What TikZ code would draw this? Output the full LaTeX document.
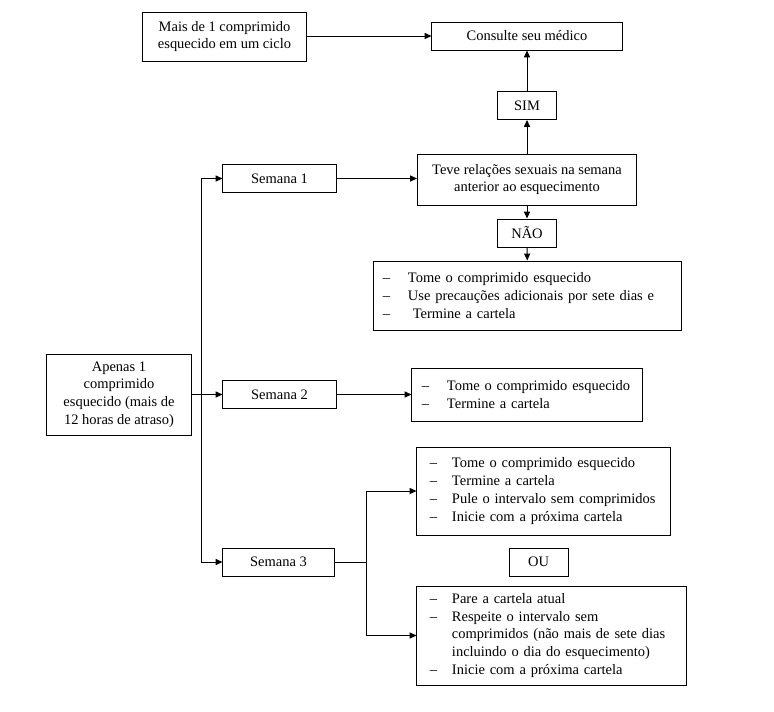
\documentclass[tikz,border=0pt]{standalone}
\usepackage{fontspec}
\setmainfont{Liberation Serif}
\usepackage{tikz}
\usetikzlibrary{arrows.meta,positioning,calc}
\tikzset{
  arr/.style={-{Triangle[length=1.7mm,width=1.5mm]}, line width=0.7pt, draw=black},
  ln/.style={line width=0.7pt, draw=black},
  figbase/.style={
    font=\fontsize{10.3}{12.6}\selectfont,
    color=black,
    x=0.025cm, y=-0.025cm,
  },
  box/.style={
    draw=black, line width=0.7pt,
    inner sep=0pt,
    align=center,
    text=black,
    minimum height=0.7cm,
  },
  tag/.style={box, minimum width=1.475cm},
  lst/.style={box, align=left, inner ysep=0pt},
}
\newcommand{\itm}[2][0.625cm]{\makebox[#1][l]{--}#2}

\begin{document}
\begin{tikzpicture}[figbase]
  \useasboundingbox (0,0) rectangle (774,711);

  \node[box, minimum width=4.075cm, minimum height=1.225cm] (mais) at (224.5,36.5)
    {Mais de 1 comprimido\\esquecido em um ciclo};
  \node[box, minimum width=4.75cm] (med) at (527,36) {Consulte seu médico};
  \node[tag] (sim) at (527,105.5) {SIM};
  \node[box, minimum width=5.475cm, minimum height=1.275cm] (teve) at (527,179.5)
    {Teve relações sexuais na semana\\anterior ao esquecimento};
  \node[box, minimum width=2.825cm] (s1) at (279.5,178.5) {Semana 1};
  \node[tag] (nao) at (527,233) {NÃO};
  \node[lst, minimum width=7.675cm, minimum height=1.725cm, inner xsep=0.225cm, text width=7.225cm]
    (l1) at (527.5,295.5)
    {\itm{Tome o comprimido esquecido}\\
     \itm{Use precauções adicionais por sete dias e}\\
     \itm{\ Termine a cartela}};

  \node[box, minimum width=3.6cm, minimum height=2.025cm] (apenas) at (119,394.5)
    {Apenas 1\\comprimido\\esquecido (mais de\\12 horas de atraso)};
  \node[box, minimum width=2.825cm] (s2) at (279.5,394.5) {Semana 2};
  \node[lst, minimum width=5.75cm, minimum height=1.325cm, inner xsep=0.25cm, text width=5.25cm]
    (l2) at (527,394.5)
    {\itm{Tome o comprimido esquecido}\\
     \itm{Termine a cartela}};

  \node[box, minimum width=2.775cm] (s3) at (278.5,562) {Semana 3};
  \node[lst, minimum width=6.325cm, minimum height=2.2cm, inner xsep=0.325cm, text width=5.675cm]
    (l3) at (543.5,491)
    {\itm[0.55cm]{Tome o comprimido esquecido}\\
     \itm[0.55cm]{Termine a cartela}\\
     \itm[0.55cm]{Pule o intervalo sem comprimidos}\\
     \itm[0.55cm]{Inicie com a próxima cartela}};
  \node[tag] (ou) at (538.5,562) {OU};
  \node[lst, minimum width=6.725cm, minimum height=2.475cm, inner xsep=0.325cm, text width=6.075cm]
    (l4) at (551.5,635.5)
    {\itm[0.55cm]{Pare a cartela atual}\\
     \itm[0.55cm]{Respeite o intervalo sem}\\
     \hspace*{0.55cm}comprimidos (não mais de sete dias\\
     \hspace*{0.55cm}incluindo o dia do esquecimento)\\
     \itm[0.55cm]{Inicie com a próxima cartela}};

  \coordinate (split) at (201,394.5);
  \coordinate (fork) at (366,562);

  \draw[arr] (mais.east |- med) -- (med.west);
  \draw[arr] (sim) -- (med);
  \draw[arr] (teve) -- (sim);
  \draw[arr] (s1) -- (s1 -| teve.west);
  \draw[arr] (teve) -- (nao);
  \draw[arr] (nao) -- (l1);

  \draw[arr] (apenas) -- (s2);
  \draw[arr] (split) |- (s1);
  \draw[arr] (split) |- (s3);
  \draw[arr] (s2) -- (l2);

  \draw[ln] (s3) -- (fork);
  \draw[arr] (fork) |- (l3);
  \draw[arr] (fork) |- (l4);
\end{tikzpicture}
\end{document}
